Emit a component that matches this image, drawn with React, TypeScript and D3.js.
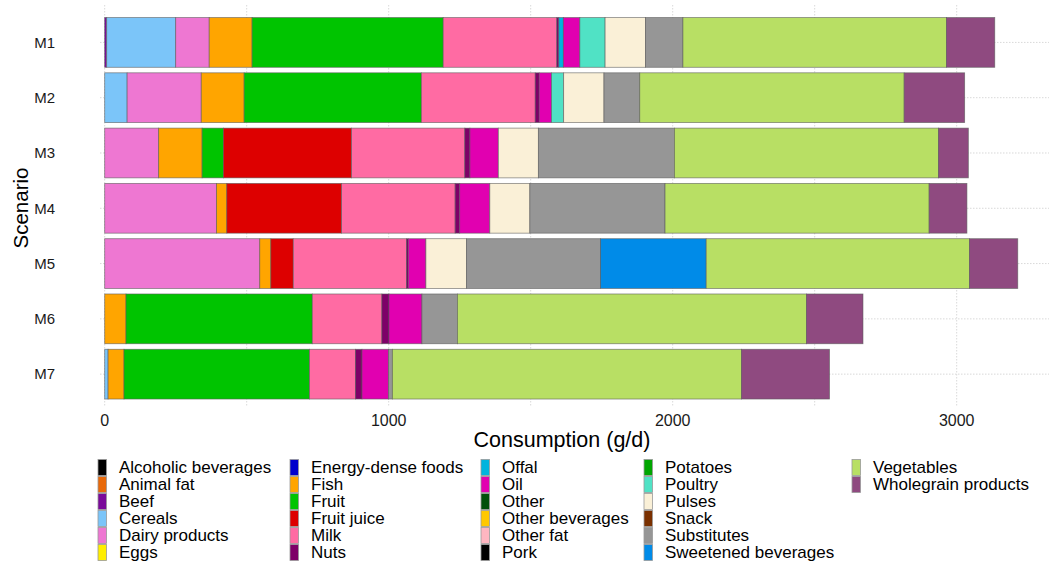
import React, { useRef, useEffect } from 'react';
import * as d3 from 'd3';

const foodGroups = [
  'Alcoholic beverages', 'Animal fat', 'Beef', 'Cereals', 'Dairy products', 'Eggs',
  'Energy-dense foods', 'Fish', 'Fruit', 'Fruit juice', 'Milk', 'Nuts',
  'Offal', 'Oil', 'Other', 'Other beverages', 'Other fat', 'Pork',
  'Potatoes', 'Poultry', 'Pulses', 'Snack', 'Substitutes', 'Sweetened beverages',
  'Vegetables', 'Wholegrain products',
];

const foodColors = [
  '#000000', '#E8690A', '#7A0A9A', '#7BC5F9', '#EE77D2', '#FFEE00',
  '#0000CC', '#FFA500', '#00C400', '#DD0000', '#FF6BA3', '#7E0068',
  '#00B4DD', '#E100B0', '#00500A', '#FFC800', '#FFB6C1', '#000000',
  '#00A600', '#50E2C5', '#FAF0D7', '#7A3000', '#969696', '#008BE8',
  '#B8DF64', '#8F4A80',
];

const scenarios = ['M1', 'M2', 'M3', 'M4', 'M5', 'M6', 'M7'];

// consumption in g/d per scenario (only non-zero groups)
const m1: Record<string, number> = {
  Beef: 7, Cereals: 243, 'Dairy products': 118, Fish: 151, Fruit: 673, Milk: 400, Nuts: 7,
  Offal: 16, Oil: 58, Poultry: 89, Pulses: 142, Substitutes: 132, Vegetables: 928, 'Wholegrain products': 170,
};
const m2: Record<string, number> = {
  Cereals: 79, 'Dairy products': 261, Fish: 151, Fruit: 624, Milk: 401, Nuts: 14, Oil: 43,
  Poultry: 43, Pulses: 142, Substitutes: 126, Vegetables: 931, 'Wholegrain products': 213,
};
const m3: Record<string, number> = {
  'Dairy products': 190, Fish: 153, Fruit: 75, 'Fruit juice': 451, Milk: 399, Nuts: 18, Oil: 100,
  Pulses: 141, Substitutes: 479, Vegetables: 930, 'Wholegrain products': 105,
};
const m4: Record<string, number> = {
  'Dairy products': 394, Fish: 36, 'Fruit juice': 404, Milk: 400, Nuts: 16, Oil: 106,
  Pulses: 141, Substitutes: 476, Vegetables: 930, 'Wholegrain products': 133,
};
const m5: Record<string, number> = {
  'Dairy products': 546, Fish: 39, 'Fruit juice': 79, Milk: 399, Nuts: 6, Oil: 62, Pulses: 143,
  Substitutes: 472, 'Sweetened beverages': 372, Vegetables: 927, 'Wholegrain products': 170,
};
const m6: Record<string, number> = {
  Fish: 75, Fruit: 656, Milk: 245, Nuts: 25, Oil: 116, Substitutes: 125, Vegetables: 1229,
  'Wholegrain products': 199,
};
const m7: Record<string, number> = {
  Cereals: 12, Fish: 56, Fruit: 653, Milk: 162, Nuts: 23, Oil: 93, Substitutes: 14,
  Vegetables: 1229, 'Wholegrain products': 310,
};
const scenarioValues = [m1, m2, m3, m4, m5, m6, m7];

const xTicks = [0, 1000, 2000, 3000];
const xGrid = [0, 500, 1000, 1500, 2000, 2500, 3000];

const W = 1049;
const H = 562;
const FONT = '"Liberation Sans", Arial, sans-serif';

export default function App() {
  const svgRef = useRef<SVGSVGElement>(null);

  useEffect(() => {
    if (!svgRef.current) return;
    const svg = d3.select(svgRef.current);
    svg.selectAll('*').remove();

    const panel = { left: 100, right: W, top: 5, bottom: 406 };

    const x = d3.scaleLinear().domain([0, 3000]).range([104.7, 956.7]);
    const y = d3.scaleBand<string>().domain(scenarios).range([12, 12 + 7 * 56.08]).padding(0.1);
    const color = d3.scaleOrdinal<string, string>().domain(foodGroups).range(foodColors);

    const g = svg.append('g');

    // grid
    g.selectAll('.grid-x')
      .data(xGrid)
      .join('line')
      .attr('x1', d => x(d)).attr('x2', d => x(d))
      .attr('y1', panel.top).attr('y2', panel.bottom)
      .attr('stroke', '#d9d9d9').attr('stroke-width', 1).attr('stroke-dasharray', '1.5,1.5');

    g.selectAll('.grid-y')
      .data(scenarios)
      .join('line')
      .attr('x1', panel.left).attr('x2', panel.right)
      .attr('y1', d => y(d)! + y.bandwidth() / 2).attr('y2', d => y(d)! + y.bandwidth() / 2)
      .attr('stroke', '#d9d9d9').attr('stroke-width', 1).attr('stroke-dasharray', '1.5,1.5');

    // stacked bars
    scenarios.forEach((s, i) => {
      const vals = scenarioValues[i];
      let cum = 0;
      foodGroups.forEach(f => {
        const v = vals[f] || 0;
        if (v <= 0) return;
        g.append('rect')
          .attr('x', x(cum))
          .attr('y', y(s)!)
          .attr('width', x(cum + v) - x(cum))
          .attr('height', y.bandwidth())
          .attr('fill', color(f))
          .attr('stroke', 'rgba(90,90,90,0.7)')
          .attr('stroke-width', 0.8);
        cum += v;
      });
    });

    // y labels
    g.selectAll('.ylab')
      .data(scenarios)
      .join('text')
      .attr('x', 55).attr('y', d => y(d)! + y.bandwidth() / 2)
      .attr('dy', '0.35em').attr('text-anchor', 'end')
      .attr('font-family', FONT).attr('font-size', 15).attr('fill', '#1a1a1a')
      .text(d => d);

    // x tick labels
    g.selectAll('.xlab')
      .data(xTicks)
      .join('text')
      .attr('x', d => x(d)).attr('y', 426)
      .attr('text-anchor', 'middle')
      .attr('font-family', FONT).attr('font-size', 16).attr('fill', '#1a1a1a')
      .text(d => String(d));

    svg.append('text')
      .attr('x', 562).attr('y', 447)
      .attr('text-anchor', 'middle')
      .attr('font-family', FONT).attr('font-size', 21.5).attr('fill', '#000')
      .text('Consumption (g/d)');

    svg.append('text')
      .attr('transform', 'rotate(-90)')
      .attr('x', -208).attr('y', 28)
      .attr('text-anchor', 'middle')
      .attr('font-family', FONT).attr('font-size', 20.5).attr('fill', '#000')
      .text('Scenario');

    // legend, column-major, 6 rows
    const colKeyX = [98, 290, 481, 644, 852];
    const rowH = 17;
    const legTop = 459;
    foodGroups.forEach((f, i) => {
      const col = Math.floor(i / 6);
      const row = i % 6;
      const kx = colKeyX[col];
      const ky = legTop + row * rowH;
      svg.append('rect')
        .attr('x', kx).attr('y', ky + 0.5)
        .attr('width', 8.5).attr('height', rowH - 1)
        .attr('fill', color(f))
        .attr('stroke', '#9a9a9a').attr('stroke-width', 0.8);
      svg.append('text')
        .attr('x', kx + 21).attr('y', ky + rowH / 2)
        .attr('dy', '0.35em')
        .attr('font-family', FONT).attr('font-size', 17).attr('fill', '#000')
        .text(f);
    });
  }, []);

  return (
    <svg
      ref={svgRef}
      width={W}
      height={H}
      style={{ position: 'absolute', left: 0, top: 0, background: '#fff' }}
    />
  );
}
